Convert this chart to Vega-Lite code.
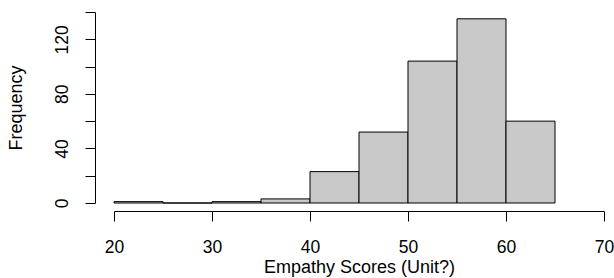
{
  "$schema": "https://vega.github.io/schema/vega-lite/v6.json",
  "autosize": "none",
  "width": 490,
  "height": 191,
  "padding": {"left": 114, "top": 12, "right": 10, "bottom": 75},
  "background": "white",
  "config": {
    "view": {"stroke": null},
    "font": "Liberation Sans",
    "axis": {
      "grid": false,
      "domainColor": "black",
      "tickColor": "black",
      "labelColor": "black",
      "titleColor": "black",
      "labelFont": "Liberation Sans",
      "titleFont": "Liberation Sans",
      "labelFontSize": 17.5,
      "titleFontSize": 18,
      "titleFontWeight": "normal",
      "tickSize": 10,
      "domainWidth": 1,
      "tickWidth": 1
    }
  },
  "data": {
    "values": [
      {"bin_start": 20, "bin_end": 25, "count": 1},
      {"bin_start": 25, "bin_end": 30, "count": 0},
      {"bin_start": 30, "bin_end": 35, "count": 1},
      {"bin_start": 35, "bin_end": 40, "count": 3},
      {"bin_start": 40, "bin_end": 45, "count": 23},
      {"bin_start": 45, "bin_end": 50, "count": 52},
      {"bin_start": 50, "bin_end": 55, "count": 104},
      {"bin_start": 55, "bin_end": 60, "count": 135},
      {"bin_start": 60, "bin_end": 65, "count": 60}
    ]
  },
  "mark": {"type": "rect", "fill": "#c8c8c8", "stroke": "black", "strokeWidth": 1},
  "encoding": {
    "x": {
      "field": "bin_start",
      "type": "quantitative",
      "scale": {"domain": [20, 70], "nice": false, "zero": false},
      "axis": {
        "title": "Empathy Scores (Unit?)",
        "values": [20, 30, 40, 50, 60, 70],
        "offset": 8,
        "labelPadding": 17,
        "titlePadding": 3,
        "labelFlush": false
      }
    },
    "x2": {"field": "bin_end"},
    "y": {
      "field": "count",
      "type": "quantitative",
      "scale": {"domain": [0, 140], "nice": false},
      "axis": {
        "title": "Frequency",
        "values": [0, 20, 40, 60, 80, 100, 120, 140],
        "labelExpr": "datum.value % 40 == 0 ? datum.label : ''",
        "offset": 19,
        "labelAngle": -90,
        "labelAlign": "center",
        "labelBaseline": "bottom",
        "labelPadding": 14,
        "titlePadding": 28,
        "labelFlush": false
      }
    },
    "y2": {"datum": 0}
  }
}
